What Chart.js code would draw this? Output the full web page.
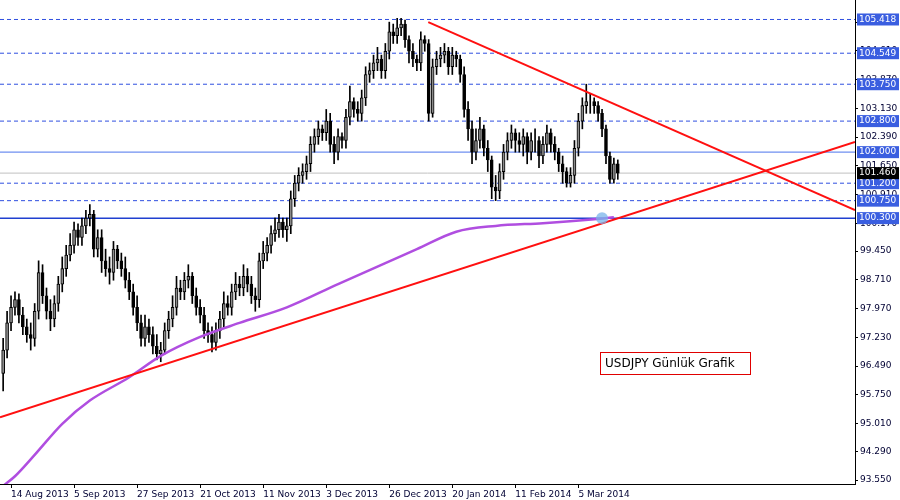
<!DOCTYPE html>
<html>
<head>
<meta charset="utf-8">
<script src="https://cdn.jsdelivr.net/npm/chart.js@4/dist/chart.umd.min.js"></script>
<style>
  body { margin: 0; background: #fff; }
  canvas { display: block; }
</style>
</head>
<body>
<canvas id="chart" width="900" height="500"></canvas>
<script>
// daily USDJPY candles, bar index 0 = 12 Aug 2013
var opens = [96.30,96.90,97.60,98.00,98.20,97.80,97.50,97.30,97.20,97.90, 98.90,98.30,97.90,97.70,98.10,98.60,99.00,99.35,99.60,100.00,
  99.80,100.10,100.30,100.40,99.50,99.80,99.20,99.00,98.90,99.50, 99.20,99.00,98.70,98.40,98.00,97.60,97.20,97.50,97.30,97.00,
  96.80,96.90,97.40,97.70,98.00,98.50,98.40,98.70,98.80,98.30, 98.00,97.80,97.40,97.30,97.10,97.40,97.70,98.10,98.00,98.40,
  98.60,98.50,98.80,98.60,98.30,98.20,99.20,99.40,99.60,99.90, 100.00,100.20,100.00,100.10,100.80,101.20,101.40,101.50,101.70,102.20,
  102.40,102.60,102.50,102.80,102.20,102.00,102.40,102.30,102.90,103.30, 103.10,103.00,103.40,104.00,104.10,104.30,104.40,104.10,104.60,105.10,
  105.00,105.20,105.30,104.90,104.60,104.40,104.30,104.90,104.80,103.00, 104.20,104.40,104.50,104.60,104.20,104.50,104.40,104.00,103.10,102.60,
  102.00,102.30,102.60,102.10,101.80,101.10,101.00,101.50,102.00,102.30, 102.50,102.30,102.20,102.40,102.00,102.30,102.30,101.90,102.20,102.50,
  102.20,102.00,101.70,101.50,101.20,101.40,102.10,102.80,103.20,103.30, 103.30,103.20,103.00,102.60,101.90,101.30,101.70];
var closes = [96.90,97.60,98.00,98.20,97.80,97.50,97.30,97.20,97.90,98.90, 98.30,97.90,97.70,98.10,98.60,99.00,99.35,99.60,100.00,99.80,
  100.10,100.30,100.40,99.50,99.80,99.20,99.00,98.90,99.50,99.20, 99.00,98.70,98.40,98.00,97.60,97.20,97.50,97.30,97.00,96.80,
  96.90,97.40,97.70,98.00,98.50,98.40,98.70,98.80,98.30,98.00, 97.80,97.40,97.30,97.10,97.40,97.70,98.10,98.00,98.40,98.60,
  98.50,98.80,98.60,98.30,98.20,99.20,99.40,99.60,99.90,100.00, 100.20,100.00,100.10,100.80,101.20,101.40,101.50,101.70,102.20,102.40,
  102.60,102.50,102.80,102.20,102.00,102.40,102.30,102.90,103.30,103.10, 103.00,103.40,104.00,104.10,104.30,104.40,104.10,104.60,105.10,105.00,
  105.20,105.30,104.90,104.60,104.40,104.30,104.90,104.80,103.00,104.20, 104.40,104.50,104.60,104.20,104.50,104.40,104.00,103.10,102.60,102.00,
  102.30,102.60,102.10,101.80,101.10,101.00,101.50,102.00,102.30,102.50, 102.30,102.20,102.40,102.00,102.30,102.30,101.90,102.20,102.50,102.20,
  102.00,101.70,101.50,101.20,101.40,102.10,102.80,103.20,103.30,103.30, 103.20,103.00,102.60,101.90,101.30,101.70,101.46];
var highs = [97.20,97.90,98.30,98.40,98.35,98.00,97.70,97.60,98.10,99.20, 99.10,98.50,98.20,98.30,98.80,99.30,99.60,99.90,100.20,100.15,
  100.30,100.50,100.65,100.50,100.00,100.00,99.50,99.30,99.70,99.60, 99.40,99.30,98.90,98.60,98.30,97.80,97.80,97.70,97.50,97.30,
  97.10,97.60,97.90,98.30,98.80,98.70,98.90,99.10,98.90,98.50, 98.20,98.00,97.60,97.50,97.60,97.90,98.40,98.30,98.60,98.90,
  98.80,99.10,99.00,98.80,98.50,99.40,99.70,99.80,100.10,100.30, 100.40,100.30,100.30,101.00,101.40,101.60,101.70,101.90,102.40,102.60,
  102.80,102.70,103.10,103.00,102.40,102.60,102.50,103.10,103.70,103.40, 103.30,103.60,104.20,104.30,104.50,104.70,104.50,104.80,105.35,105.30,
  105.45,105.45,105.40,105.00,104.80,104.50,105.10,105.00,104.90,104.40, 104.60,104.70,104.80,104.70,104.70,104.60,104.50,104.20,103.30,102.80,
  102.60,102.90,102.70,102.30,101.90,101.40,101.70,102.20,102.50,102.70, 102.60,102.50,102.60,102.50,102.50,102.60,102.40,102.40,102.70,102.60,
  102.40,102.10,101.90,101.60,101.60,102.30,103.00,103.40,103.75,103.50, 103.40,103.30,103.10,102.70,102.00,101.85,101.80];
var lows = [95.85,96.70,97.40,97.80,97.60,97.30,97.10,96.90,97.00,97.70, 98.10,97.70,97.40,97.50,97.90,98.40,98.80,99.20,99.40,99.60,
  99.60,99.90,100.10,99.30,99.30,98.90,98.80,98.60,98.70,99.00, 98.80,98.50,98.20,97.80,97.40,97.00,97.00,97.10,96.80,96.65,
  96.60,96.80,97.20,97.50,97.80,98.20,98.20,98.50,98.10,97.80, 97.60,97.20,97.10,96.85,96.90,97.20,97.50,97.80,97.80,98.20,
  98.30,98.30,98.40,98.10,97.90,98.00,99.00,99.20,99.40,99.70, 99.80,99.80,99.70,99.90,100.60,101.00,101.20,101.30,101.50,102.00,
  102.20,102.30,102.30,102.00,101.70,101.80,102.10,102.10,102.70,102.90, 102.80,102.80,103.20,103.80,103.90,104.10,103.90,103.90,104.40,104.80,
  104.80,105.00,104.70,104.30,104.20,104.10,104.10,104.60,102.80,102.90, 104.00,104.20,104.30,104.00,104.00,104.20,103.80,102.90,102.30,101.70,
  101.80,102.10,101.90,101.50,100.80,100.75,100.80,101.30,101.80,102.10, 102.00,102.00,101.90,101.70,101.80,102.00,101.60,101.70,102.00,102.00,
  101.80,101.50,101.20,101.10,101.10,101.20,101.90,102.60,103.00,103.00, 103.00,102.80,102.40,101.70,101.20,101.20,101.30];

// 200-day moving average read at a few bars
var maIndex = [0, 3, 8, 15, 22, 32, 40, 50, 60, 72, 85, 97, 105, 115, 125, 137, 150, 155];
var maValues = [93.40, 93.65, 94.20, 95.00, 95.60, 96.20, 96.75, 97.24, 97.60, 98.00, 98.60, 99.14, 99.50, 99.95, 100.10, 100.17, 100.27, 100.32];

// trend lines [x index, price]
var supportLine = [[-0.8, 95.17], [216.2, 102.26]];
var resistLine = [[107.9, 105.35], [216.2, 100.51]];

var dashedLevels = [105.418, 104.549, 103.750, 102.800, 101.200, 100.750];
var solidLevels = [102.000, 100.300];
var lastPrice = 101.460;

var dateTickIndex = [2, 18, 34, 50, 66, 82, 98, 114, 130, 146];
var dateTickLabels = ['14 Aug 2013', '5 Sep 2013', '27 Sep 2013', '21 Oct 2013', '11 Nov 2013',
  '3 Dec 2013', '26 Dec 2013', '20 Jan 2014', '11 Feb 2014', '5 Mar 2014'];
var priceTicks = [93.55, 94.29, 95.01, 95.75, 96.49, 97.23, 97.97, 98.71, 99.45, 100.17,
  100.91, 101.65, 102.39, 103.13, 103.87, 104.61, 105.35];

var xMin = -0.8, xMax = 216.2;

var wicks = [], bodies = [], bodyColors = [];
for (var i = 0; i < closes.length; i++) {
    wicks.push({x: i, y: [lows[i], highs[i]]});
    bodies.push({x: i, y: [opens[i], closes[i]]});
    bodyColors.push(closes[i] >= opens[i] ? '#8a8a8a' : '#000000');
}

function hline(v, color, dash, width) {
    return {
        type: 'line',
        data: [{x: xMin, y: v}, {x: xMax, y: v}],
        borderColor: color, borderDash: dash, borderWidth: width,
        pointRadius: 0, order: 5
    };
}

var datasets = [];
dashedLevels.forEach(function (v) { datasets.push(hline(v, '#2f4fe0', [4, 3], 1)); });
datasets.push(hline(solidLevels[0], '#6f8ff0', [], 1.2));
datasets.push(hline(solidLevels[1], '#2040d0', [], 1.5));
datasets.push(hline(lastPrice, '#c0c0c0', [], 1));

datasets.push({type: 'bar', data: wicks, backgroundColor: '#000', barThickness: 1, grouped: false, order: 4});
datasets.push({type: 'bar', data: bodies, backgroundColor: bodyColors, borderColor: '#000', borderWidth: 1,
    borderSkipped: false, barThickness: 3, grouped: false, order: 3});

datasets.push({type: 'line', data: maIndex.map(function (x, k) { return {x: x, y: maValues[k]}; }),
    borderColor: '#b04ee0', borderWidth: 2.5, pointRadius: 0, cubicInterpolationMode: 'monotone', order: 2});
datasets.push({type: 'line', data: supportLine.map(function (p) { return {x: p[0], y: p[1]}; }),
    borderColor: '#ff1010', borderWidth: 2, pointRadius: 0, order: 1});
datasets.push({type: 'line', data: resistLine.map(function (p) { return {x: p[0], y: p[1]}; }),
    borderColor: '#ff1010', borderWidth: 2, pointRadius: 0, order: 1});
datasets.push({type: 'scatter', data: [{x: 152, y: 100.30}], pointRadius: 6,
    backgroundColor: 'rgba(120,180,235,0.75)', borderWidth: 0, order: 0});

var levelLabels = {
    id: 'levelLabels',
    afterDraw: function (chart) {
        var c = chart.ctx, ys = chart.scales.y, left = chart.chartArea.right + 2;
        c.save();
        c.font = '9px "DejaVu Sans"';
        c.textBaseline = 'middle';
        var all = dashedLevels.concat(solidLevels);
        all.forEach(function (v) {
            var y = ys.getPixelForValue(v);
            c.fillStyle = '#3a5ee0';
            c.fillRect(left, y - 6, 42, 12);
            c.fillStyle = '#fff';
            c.fillText(v.toFixed(3), left + 2, y);
        });
        var yl = ys.getPixelForValue(lastPrice);
        c.fillStyle = '#000';
        c.fillRect(left, yl - 6, 42, 12);
        c.fillStyle = '#fff';
        c.fillText(lastPrice.toFixed(3), left + 2, yl);

        // caption box
        c.font = '12px "DejaVu Sans"';
        c.fillStyle = '#fff';
        c.fillRect(600, 352, 150, 22);
        c.strokeStyle = '#e00000';
        c.lineWidth = 1;
        c.strokeRect(600.5, 352.5, 150, 22);
        c.fillStyle = '#000';
        c.fillText('USDJPY Günlük Grafik', 605, 364);
        c.restore();
    }
};

var ctx = document.getElementById('chart').getContext('2d');
var chart = new Chart(ctx, {
    data: {datasets: datasets},
    options: {
        responsive: false,
        animation: false,
        devicePixelRatio: 1,
        layout: {padding: 0, autoPadding: false},
        plugins: {legend: {display: false}, tooltip: {enabled: false}},
        scales: {
            x: {
                type: 'linear', min: xMin, max: xMax, offset: false,
                afterBuildTicks: function (s) { s.ticks = dateTickIndex.map(function (v) { return {value: v}; }); },
                afterFit: function (s) { s.height = 16; s.paddingLeft = 0; s.paddingRight = 0; },
                ticks: {
                    autoSkip: false, maxRotation: 0, align: 'start', padding: 1,
                    color: '#000033', font: {family: 'DejaVu Sans', size: 9},
                    callback: function (v) { return dateTickLabels[dateTickIndex.indexOf(v)]; }
                },
                grid: {drawOnChartArea: false, tickLength: 4, color: '#000', offset: false},
                border: {color: '#000'}
            },
            y: {
                type: 'linear', position: 'right', min: 93.45, max: 105.92,
                afterBuildTicks: function (s) { s.ticks = priceTicks.map(function (v) { return {value: v}; }); },
                afterFit: function (s) { s.width = 45; s.paddingTop = 0; s.paddingBottom = 0; },
                ticks: {
                    autoSkip: false, padding: 2, color: '#000033', font: {family: 'DejaVu Sans', size: 9},
                    callback: function (v) { return v.toFixed(3); }
                },
                grid: {drawOnChartArea: false, tickLength: 3, color: '#000'},
                border: {color: '#000'}
            }
        }
    },
    plugins: [levelLabels]
});
</script>
</body>
</html>
